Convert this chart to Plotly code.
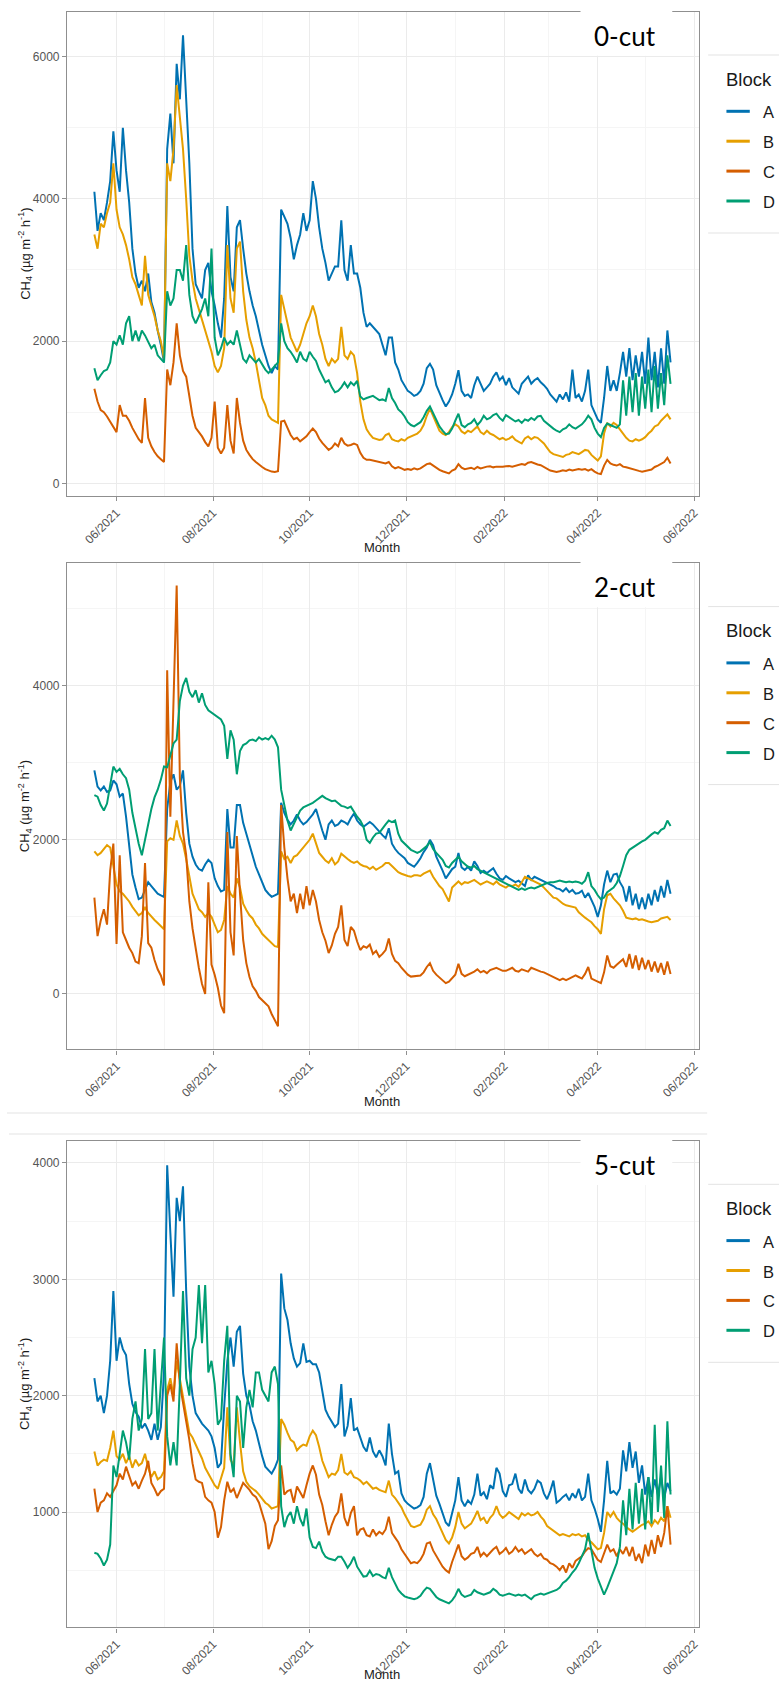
import pandas as pd
import plotly.graph_objects as go

W, H = 781, 1683
START = "2021-05-18"
STEP = "2D"
N_POINTS = 183

# ---- CH4 flux series, one value every two days (µg m-2 h-1) ----
cut0_A = [
    4100, 3550, 3800, 3700, 3950, 4250, 4950, 4400, 4100, 5000,
    4400, 3950, 3300, 2950, 2750, 2850, 2700, 2950, 2550, 2400,
    2150, 1950, 1700, 4700, 5200, 4500, 5900, 5400, 6300, 5400,
    4500, 3300, 2800, 2700, 2600, 3000, 3100, 2700, 2500, 2250,
    2050, 2600, 3900, 2900, 2700, 3600, 3700, 3300, 2950, 2700,
    2500, 2350, 2150, 1950, 1800, 1650, 1550, 1650, 1600, 3850,
    3750, 3650, 3450, 3150, 3350, 3500, 3800, 3550, 3700, 4250,
    4000, 3600, 3300, 3100, 2850, 2950, 3050, 3050, 3700, 3000,
    2850, 3350, 2950, 2950, 2750, 2400, 2200, 2250, 2200, 2150,
    2100, 1950, 1800, 2050, 2050, 1700, 1600, 1450, 1380, 1300,
    1270, 1230, 1250, 1300, 1400, 1620, 1680, 1600, 1380, 1270,
    1170, 1080, 1150, 1250, 1400, 1590, 1300, 1230, 1250, 1200,
    1380, 1500, 1400, 1300, 1350, 1400, 1500, 1560, 1450, 1500,
    1380, 1480, 1350, 1300, 1260, 1400, 1450, 1500, 1400, 1450,
    1480, 1420, 1380, 1330, 1250, 1200, 1150, 1250, 1180, 1280,
    1150, 1600, 1200, 1250, 1150, 1300, 1600, 1100, 1000, 900,
    850, 1200, 1650, 1300, 1450, 1300, 1550, 1850, 1500, 1900,
    1450, 1800, 1500, 1850, 1400, 2050, 1450, 1850, 1350, 1900,
    1400, 2150, 1700,
]
cut0_B = [
    3500, 3300, 3650, 3600, 3800, 3950, 4500, 3850, 3600, 3500,
    3350, 3150, 2900, 2800, 2650, 2500, 3200, 2650, 2500, 2350,
    2150, 2000, 1750, 4500, 4250, 4700, 5600, 5100, 4700, 4000,
    3200, 2850, 2600, 2450, 2300, 2150, 2000, 1850, 1650, 1560,
    1650, 1900, 3350, 2600, 2400, 3300, 3400, 2700, 2300, 2050,
    1900, 1700, 1450, 1200, 1100, 950, 900, 870, 850, 2650,
    2450, 2250, 2050, 1950, 1850, 1950, 2100, 2250, 2350, 2500,
    2350, 2100, 1950, 1750, 1650, 1750, 1700, 1750, 2200, 1800,
    1750, 1850, 1800, 1550, 1150, 900, 760, 690, 640, 620,
    610, 620, 680, 700, 620, 600, 590, 620, 600, 640,
    660, 680, 700, 740, 820, 950, 1050, 950, 850, 740,
    700, 680, 720, 790, 830, 800, 730, 700, 740, 720,
    760, 800, 720, 690, 740, 700, 680, 650, 620, 640,
    610, 630, 660, 610, 590, 560, 630, 660, 620, 650,
    640, 600, 560, 500, 440, 410, 400, 390, 370, 400,
    410, 440, 420, 410, 440, 470, 460, 400, 360, 320,
    380, 700, 850, 800, 850, 820, 760, 700, 640, 600,
    590, 620, 600, 620, 650, 700, 740, 800, 820, 880,
    930, 970, 900,
]
cut0_C = [
    1330, 1150, 1030, 1000, 940, 860, 780, 720, 1100, 950,
    950, 880, 780, 690, 620, 570, 1200, 640, 520, 440,
    380, 340, 300, 1600, 1380, 1700, 2250, 1800, 1580, 1500,
    1250, 950, 780, 720, 660, 580, 520, 640, 1150, 500,
    420, 500, 1100, 600, 420, 1200, 850, 600, 470, 400,
    340, 300, 260, 230, 200, 180, 165, 160, 170, 870,
    880, 780, 680, 620, 640, 590, 620, 660, 720, 770,
    720, 630, 570, 520, 470, 500, 560, 520, 640, 560,
    530, 540, 560, 540, 430, 360, 330, 330, 320, 300,
    290, 280, 280, 300, 240, 210, 230, 210, 190, 200,
    190, 210, 195, 210, 240, 270, 280, 250, 210, 190,
    170, 160, 140, 180, 200, 270, 220, 200, 210, 220,
    200, 230, 210, 225, 235, 240, 225, 235, 230, 235,
    240, 245, 235, 250, 260, 270, 260, 290, 300, 280,
    265, 255, 230, 200, 180, 170, 160, 170, 185, 175,
    195, 180, 190, 200, 190, 200, 180, 200, 165, 140,
    130, 250, 330, 280, 260, 250, 270, 235, 225, 210,
    200, 185, 175, 165, 170, 185, 195, 230, 250, 280,
    300, 360, 280,
]
cut0_D = [
    1620, 1450, 1520, 1580, 1600, 1700, 2000, 1950, 2080, 1950,
    2250, 2350, 2000, 2150, 2000, 2150, 2080, 1980, 1900, 1950,
    1800, 1750, 1700, 2700, 2500, 2600, 3000, 3000, 2850, 3350,
    2650, 2350, 2250, 2350, 2450, 2600, 2350, 3300, 2050, 1800,
    1900, 2050, 1950, 2000, 1950, 2150, 1950, 1750, 1700, 1800,
    1750, 1700, 1750, 1680, 1600, 1550, 1600, 1650, 1700, 2250,
    2000, 1900, 1850, 1780, 1700, 1850, 1750, 1720, 1850, 1780,
    1720, 1600, 1500, 1420, 1450, 1350, 1280, 1300, 1350, 1420,
    1350, 1420, 1380, 1440, 1220, 1180, 1200, 1210, 1230, 1200,
    1170, 1180, 1160, 1340, 1200, 1130, 1040, 1000, 940, 860,
    820, 800, 830, 860, 930, 1020, 1080, 980, 890, 800,
    740, 690, 700, 770, 880, 980, 820, 790, 830, 850,
    900, 820, 870, 950, 900, 920, 960, 980, 920, 880,
    960, 930, 900, 870, 890, 850, 900, 880, 920, 890,
    940, 950, 880, 840, 800, 770, 740, 720, 760, 780,
    830, 790, 770, 800, 830, 880, 950, 900, 780, 700,
    650, 780, 840, 820, 800, 780, 830, 1450, 950, 1500,
    1000, 1550, 950, 1500, 1050, 1600, 1000, 1650, 1050, 1550,
    1100, 1800, 1400,
]

cut2_A = [
    2900, 2690, 2640, 2690, 2620, 2640, 2770, 2720, 2560, 2600,
    2300, 1950, 1550, 1380, 1230, 1250, 1350, 1450, 1400, 1350,
    1300, 1280, 1260, 2400, 2750, 2850, 2650, 2700, 2900, 2350,
    1950, 1780, 1680, 1620, 1600, 1680, 1740, 1700, 1500, 1400,
    1330, 1350, 2400, 1900, 1900, 2450, 2450, 2220, 2080, 1950,
    1800, 1650, 1550, 1450, 1350, 1300, 1260, 1280, 1300, 2480,
    2350, 2260, 2200, 2250, 2330, 2250, 2200, 2230, 2280, 2330,
    2400, 2250, 2120, 2000, 2200, 2250, 2180, 2200, 2250, 2230,
    2200, 2280, 2340, 2250, 2200, 2170, 2200, 2230, 2200, 2150,
    2100, 2060, 2020, 2150, 1950, 1880, 1830, 1800, 1760, 1700,
    1670, 1650, 1700, 1760, 1840, 1900, 2000, 1930, 1780, 1700,
    1600, 1500, 1560, 1620, 1650, 1830, 1640, 1610, 1650, 1600,
    1720, 1660, 1570, 1600, 1570, 1600, 1630, 1560, 1500, 1480,
    1530, 1500, 1480, 1450, 1470, 1430, 1400, 1540, 1480, 1520,
    1500, 1480, 1470, 1440, 1420, 1400, 1370, 1360, 1330, 1370,
    1320, 1350, 1300, 1310, 1340, 1250, 1310, 1220, 1130, 1000,
    1150, 1420, 1600, 1450, 1550, 1560, 1450, 1380, 1200, 1400,
    1150, 1300, 1100, 1250, 1100, 1300, 1150, 1350, 1200, 1400,
    1250, 1480, 1300,
]
cut2_B = [
    1850, 1800, 1830, 1880, 1930, 1900, 1650, 1420, 1330, 1300,
    1250, 1200, 1130, 1080, 1020, 1050, 1120, 1050, 1000, 960,
    920, 880, 840, 1980, 2020, 2000, 2250, 2050, 1950, 1750,
    1500, 1300, 1200, 1100, 1060, 1000, 1050, 1000, 900, 800,
    830, 960, 1400, 1300, 1250, 1500, 1380, 1170, 1090, 1020,
    980, 900, 850, 780, 740, 700, 660, 620, 610, 1850,
    1750, 1780, 1700, 1780, 1800, 1850, 1900, 1950, 2000, 2080,
    1950, 1830, 1780, 1730, 1700, 1760, 1680, 1720, 1820, 1780,
    1750, 1720, 1700, 1720, 1680, 1660, 1650, 1620, 1650, 1610,
    1630, 1660, 1700, 1700, 1660, 1620, 1580, 1560, 1540, 1530,
    1520, 1540, 1540, 1530, 1560, 1580, 1600, 1520, 1460, 1400,
    1360, 1280, 1200, 1380, 1420, 1460, 1420, 1450, 1440, 1460,
    1480, 1450, 1420, 1440, 1460, 1440, 1420, 1460, 1420, 1400,
    1380, 1410, 1400, 1420, 1390, 1450, 1520, 1500, 1480, 1460,
    1430, 1420, 1380, 1340, 1300, 1250, 1240, 1200, 1170, 1150,
    1140, 1130, 1120, 1060, 1020, 990, 960, 930, 880, 840,
    780, 1100, 1280, 1300, 1240, 1200, 1150, 1080, 990, 980,
    970, 980, 960, 970, 950, 940, 930, 940, 950, 980,
    990, 1000, 960,
]
cut2_C = [
    1250, 750, 950, 1100, 900, 1600, 1950, 650, 1800, 800,
    700, 600, 530, 420, 400, 750, 1700, 660, 600, 440,
    320, 240, 110, 4200, 2300, 3850, 5300, 2800, 2100, 1800,
    1200, 850, 570, 340, 130, 0, 1450, 380, 250, 80,
    -150, -250, 2100, 800, 500, 2050, 1300, 700, 400, 220,
    100, 40, -40, -80, -120, -160, -260, -350, -420, 2450,
    1900, 1500, 1200, 1300, 1050, 1300, 1100, 1400, 1150, 1350,
    1200, 960, 800, 690, 530, 630, 780, 870, 1150, 700,
    620, 870, 820, 680, 570, 620, 600, 640, 520, 560,
    480, 520, 570, 720, 520, 430, 400, 340, 300, 250,
    225, 230, 235, 240, 280, 350, 400, 300, 250, 210,
    180, 140, 160, 200, 250, 390, 260, 230, 250, 260,
    290, 320, 280, 300, 270, 310, 320, 340, 320, 300,
    300, 320, 340, 300, 290, 320, 310, 290, 340, 320,
    300, 290, 280, 260, 240, 220, 200, 180, 200, 180,
    200, 220, 240, 220, 200, 260, 350, 200, 180, 160,
    140, 280, 500, 360, 340, 380, 420, 450, 350, 520,
    330, 500, 310, 470, 320, 440, 290, 420, 280, 400,
    250, 420, 260,
]
cut2_D = [
    2580, 2560, 2450, 2380, 2470, 2720, 2950, 2880, 2920, 2850,
    2800, 2650, 2350, 2150, 1950, 1800, 2000, 2220, 2400, 2550,
    2650, 2780, 2950, 2940, 3100, 3250, 3300, 3800, 4000, 4100,
    3920, 3850, 3940, 3780, 3900, 3750, 3680, 3650, 3620, 3600,
    3560, 3480, 3050, 3420, 3300, 2850, 3150, 3230, 3250, 3290,
    3300, 3280, 3330, 3300, 3320, 3300, 3350, 3300, 3200, 2650,
    2450, 2250, 2120, 2200, 2300, 2380, 2420, 2440, 2450, 2480,
    2510, 2540, 2570, 2540, 2520, 2500, 2510, 2470, 2440, 2430,
    2410, 2430, 2360, 2300, 2250, 2170, 2000, 1960, 2030, 2080,
    2090, 2150, 2200, 2250, 2230, 2250, 2080, 1990, 1950, 1910,
    1870, 1850, 1830, 1850, 1880, 1920, 1970, 1880, 1830, 1780,
    1740, 1660, 1640, 1700, 1740, 1780, 1720, 1690, 1650, 1640,
    1660, 1620, 1600, 1580, 1560, 1540, 1520, 1500, 1480, 1450,
    1430, 1410, 1390, 1370, 1350, 1370, 1350, 1370, 1380, 1370,
    1390, 1400, 1420, 1440, 1450, 1450, 1460, 1470, 1460, 1450,
    1460, 1450, 1460, 1450, 1430, 1470, 1580, 1400, 1350, 1280,
    1230, 1250, 1320, 1350, 1380, 1440, 1530, 1660, 1800, 1870,
    1900, 1920, 1950, 1980, 2000, 2040, 2070, 2100, 2080, 2130,
    2150, 2250, 2180,
]

cut5_A = [
    2150, 1950, 2000, 1850, 2000, 2300, 2900, 2300, 2500, 2400,
    2350, 2100, 1930, 1860, 1820, 1720, 1760, 1700, 1620, 1760,
    1620, 1730, 2200, 3980, 3400, 2850, 3700, 3500, 3800, 2900,
    2250, 2000, 1850, 1800, 1760, 1730, 1700, 1650, 1550, 1380,
    1420, 1900, 2300, 2500, 2250, 2550, 2600, 2190, 2000, 1920,
    1780, 1700, 1580, 1480, 1390, 1360, 1330, 1380, 1450, 3050,
    2750, 2650, 2450, 2320, 2250, 2280, 2450, 2290, 2300, 2270,
    2270, 2200, 2050, 1880, 1820, 1780, 1730, 1760, 2100, 1650,
    1740, 1980, 1700, 1720, 1640, 1560, 1520, 1640, 1520, 1470,
    1530, 1480, 1400, 1760, 1500, 1330, 1350, 1160, 1100, 1070,
    1050, 1030, 1040, 1060, 1130, 1330, 1420, 1280, 1140, 1070,
    990, 910, 880, 990, 1100, 1300, 1100, 1050, 1100, 1070,
    1150, 1330, 1140, 1170, 1110, 1230, 1200, 1380, 1330, 1180,
    1130, 1230, 1240, 1330, 1200, 1160, 1280, 1190, 1160, 1200,
    1270, 1250, 1160, 1110, 1180, 1270, 1080, 1100, 1130, 1150,
    1100, 1160, 1120, 1200, 1100, 1130, 1330, 1100, 1030, 940,
    830, 1100, 1440, 1160, 1180, 1150, 1200, 1530, 1350, 1600,
    1380, 1520, 1250, 1400, 1150, 1300, 1130, 1280, 1150, 1300,
    1120, 1250, 1180,
]
cut5_B = [
    1520, 1400, 1430, 1450, 1440, 1550, 1700, 1480, 1450, 1500,
    1420, 1480, 1380, 1450, 1400, 1420, 1500, 1380, 1300, 1350,
    1280, 1300, 1350, 2050, 2150, 2000, 2300, 2150, 2000, 1820,
    1680, 1640, 1580, 1530, 1460, 1380, 1330, 1270, 1230, 1200,
    1300, 1380, 1900, 1450, 1400, 1900, 1600, 1350, 1260, 1220,
    1200, 1180, 1150, 1110, 1080, 1060, 1030, 1040, 1050, 1800,
    1750, 1680, 1620, 1600, 1530, 1560, 1580, 1570, 1650, 1700,
    1660, 1560, 1440, 1370, 1300, 1330, 1320, 1360, 1500, 1340,
    1320, 1350, 1300, 1290, 1270, 1240, 1260, 1230, 1200, 1210,
    1190, 1180, 1170, 1270, 1150, 1120, 1080, 1040, 980, 930,
    880, 870, 880, 890, 940, 1020, 1050, 980, 940, 880,
    820, 760, 730, 780, 870, 1000, 900, 860, 880, 900,
    950, 1010, 930, 950, 900, 950, 980, 1050, 980, 950,
    970, 1000, 980, 960, 940, 990, 970, 990, 970, 980,
    1000, 960, 930, 880, 860, 840, 820, 800, 810, 800,
    790, 810, 800, 810, 790, 800, 760, 740, 710, 680,
    690, 820, 1000, 960, 1000, 950, 920, 900, 870, 850,
    830, 850, 870, 890, 900, 920, 880, 930, 900, 950,
    920, 1050, 950,
]
cut5_C = [
    1200, 1000, 1080, 1100, 1160, 1130, 1180, 1230, 1330, 1280,
    1390, 1300, 1230, 1260, 1200, 1270, 1330, 1440, 1250, 1200,
    1140, 1180, 1200, 2000, 2100, 1950, 2450, 2100, 1950, 1800,
    1620, 1420, 1280, 1260, 1250, 1130, 1100, 1080, 1000, 780,
    870, 1100, 1260, 1170, 1200, 1120, 1190, 1250, 1220, 1190,
    1150, 1130, 1080, 990, 900, 680, 750, 880, 930, 1400,
    1150, 1180, 1190, 1080, 1220, 1170, 1120, 1230, 1330, 1400,
    1320, 1150, 1060, 920, 800, 890, 960, 1000, 1160, 950,
    880, 990, 1050, 800, 850, 860, 800, 790, 850, 800,
    830, 810, 850, 960, 820, 780, 740, 680, 640, 590,
    560, 570, 560, 590, 640, 730, 740, 670, 620, 570,
    530, 500, 480, 570, 640, 720, 620, 590, 610, 640,
    650, 700, 620, 650, 620, 650, 680, 700, 640, 660,
    690, 640, 660, 700, 660, 680, 640, 660, 680, 640,
    620, 640, 600, 590, 560, 550, 530, 500, 540, 480,
    560, 520, 580, 600, 620, 660, 690, 680, 640, 590,
    570, 650, 720, 660, 680, 620, 680, 640, 700, 620,
    700, 580, 640, 560, 720, 620, 760, 640, 800, 700,
    820, 1050, 720,
]
cut5_D = [
    650, 640, 600, 540, 590, 720, 1400, 1300, 1500, 1700,
    1600, 1450, 1800, 1950, 1700, 1800, 2400, 1800, 1850, 2400,
    1700, 2150, 2500, 1650, 1400, 1600, 1400, 2100, 2900, 2150,
    2000, 2400, 2500, 2950, 2450, 2950, 2200, 2300, 2100, 1750,
    1800, 2300, 2600, 1500, 1300, 2000, 1950, 1550, 1900, 2050,
    1900, 2200, 2200, 2050, 2000, 1950, 2200, 2250, 2100, 1050,
    870, 960, 1000, 900, 1050, 940, 880, 1030, 780, 700,
    690, 745, 660, 616, 600, 590, 585, 616, 616, 573,
    520, 560, 616, 530, 490, 445, 450, 496, 450, 467,
    460, 440, 430, 520, 440, 390, 330, 300, 275, 265,
    260, 250, 260, 280, 320, 350, 340, 300, 270, 250,
    240, 225, 215, 240, 280, 340, 290, 270, 280, 290,
    330, 310, 300, 290, 300, 310, 340, 320, 290, 280,
    290, 300, 290, 280, 290, 280, 290, 270, 250, 280,
    290, 300, 290, 300, 310, 320, 330, 350, 390, 410,
    440, 480, 510, 560, 620, 680, 820, 650, 520, 430,
    360, 290, 350, 420, 490, 560, 700, 1100, 800, 1200,
    850, 1250, 900, 1200, 850, 1300, 900, 1750, 1000, 1400,
    950, 1780, 1150,
]

BLOCKS = ["A", "B", "C", "D"]
COLORS = {"A": "#0072B2", "B": "#E69F00", "C": "#D55E00", "D": "#009E73"}

PANELS = [
    dict(label="0-cut", series=dict(A=cut0_A, B=cut0_B, C=cut0_C, D=cut0_D),
         top=11.7, bottom=496.0, yrange=[-178, 6632], dtick=2000,
         month_y=547.0),
    dict(label="2-cut", series=dict(A=cut2_A, B=cut2_B, C=cut2_C, D=cut2_D),
         top=563.3, bottom=1049.3, yrange=[-718, 5587], dtick=2000,
         month_y=1101.0),
    dict(label="5-cut", series=dict(A=cut5_A, B=cut5_B, C=cut5_C, D=cut5_D),
         top=1141.0, bottom=1627.3, yrange=[9, 4189], dtick=1000,
         month_y=1674.0),
]

for p in PANELS:
    for k, v in p["series"].items():
        assert len(v) == N_POINTS, (p["label"], k, len(v))

dates = pd.date_range(START, periods=N_POINTS, freq=STEP)

# ---- page geometry (pixels) ----
X_LEFT, X_RIGHT = 67.3, 700.7
X_RANGE = ["2021-04-30 19:00", "2022-06-03 22:00"]
FONT = "Liberation Sans, Arial, sans-serif"
FRAME = "#8f8f8f"
GRID = "#ebebeb"
MINOR = "#f5f5f5"
TICK = "#555555"
TEXT = "#1a1a1a"
EDGE = "#e3e3e3"


def fx(px):
    return px / W


def fy(py):
    return 1 - py / H


def edge(x0, y0, x1, y1):
    return dict(type="line", xref="paper", yref="paper",
                x0=fx(x0), y0=fy(y0), x1=fx(x1), y1=fy(y1),
                line=dict(color=EDGE, width=1))


fig = go.Figure()
shapes = []
annotations = []

for i, p in enumerate(PANELS, start=1):
    sfx = "" if i == 1 else str(i)
    for b in BLOCKS:
        fig.add_trace(go.Scatter(
            x=dates, y=p["series"][b], mode="lines", name=b,
            line=dict(color=COLORS[b], width=2.0),
            xaxis="x" + sfx, yaxis="y" + sfx, showlegend=False,
        ))

    common = dict(
        showline=True, mirror=True, linecolor=FRAME, linewidth=1.4,
        ticks="outside", ticklen=4, tickwidth=1, tickcolor=FRAME,
        tickfont=dict(family=FONT, size=12, color=TICK),
        showgrid=True, gridcolor=GRID, gridwidth=1, zeroline=False,
    )
    fig.layout["xaxis" + sfx] = dict(
        common, type="date", range=X_RANGE, domain=[fx(X_LEFT), fx(X_RIGHT)],
        anchor="y" + sfx, tick0="2021-06-01", dtick="M2", tickformat="%m/%Y",
        tickangle=-45,
        minor=dict(tick0="2021-05-01", dtick="M1", showgrid=True,
                   gridcolor=MINOR, gridwidth=1),
    )
    fig.layout["yaxis" + sfx] = dict(
        common, range=p["yrange"], domain=[fy(p["bottom"]), fy(p["top"])],
        anchor="x" + sfx, tick0=0, dtick=p["dtick"],
        minor=dict(tick0=0, dtick=p["dtick"] / 2, showgrid=True,
                   gridcolor=MINOR, gridwidth=1),
    )

    mid = (p["top"] + p["bottom"]) / 2
    off = p["top"] - PANELS[0]["top"]

    # axis titles
    annotations.append(dict(
        x=fx(25), y=fy(mid), xref="paper", yref="paper",
        text="CH<sub>4</sub> (µg m<sup>-2</sup> h<sup>-1</sup>)",
        textangle=-90, showarrow=False, xanchor="center", yanchor="middle",
        font=dict(family=FONT, size=13, color=TEXT),
    ))
    annotations.append(dict(
        x=fx(383), y=fy(p["month_y"]), xref="paper", yref="paper",
        text="Month", showarrow=False, xanchor="center", yanchor="middle",
        font=dict(family=FONT, size=13, color=TEXT),
    ))

    # treatment label on a white box in the upper-right corner
    shapes.append(dict(
        type="rect", xref="paper", yref="paper", layer="above",
        x0=fx(582), x1=fx(674), y0=fy(p["top"] - 2), y1=fy(p["top"] + 44),
        fillcolor="white", line=dict(width=0),
    ))
    annotations.append(dict(
        x=fx(627), y=fy(p["top"] + 24), xref="paper", yref="paper",
        text=p["label"], showarrow=False, xanchor="center", yanchor="middle",
        font=dict(family="Lato, Carlito, sans-serif", size=26, color="black"),
    ))

    # legend, in its own light box
    box_top, box_bot = 55 + off, 233 + off
    shapes.append(edge(710, box_top, W, box_top))
    shapes.append(edge(710, box_bot, W, box_bot))
    annotations.append(dict(
        x=fx(726), y=fy(79.3 + off), xref="paper", yref="paper",
        text="Block", showarrow=False, xanchor="left", yanchor="middle",
        font=dict(family=FONT, size=18.5, color=TEXT),
    ))
    for j, b in enumerate(BLOCKS):
        ky = 111.3 + off + j * 29.9
        shapes.append(dict(
            type="line", xref="paper", yref="paper",
            x0=fx(728.3), x1=fx(751.7), y0=fy(ky), y1=fy(ky),
            line=dict(color=COLORS[b], width=3),
        ))
        annotations.append(dict(
            x=fx(763), y=fy(ky + 1), xref="paper", yref="paper",
            text=b, showarrow=False, xanchor="left", yanchor="middle",
            font=dict(family=FONT, size=16.5, color=TEXT),
        ))

# light edges between the stacked panels
shapes.append(edge(7, 1113, 709, 1113))
shapes.append(edge(9, 1134, 709, 1134))

fig.update_layout(
    width=W, height=H, margin=dict(l=0, r=0, t=0, b=0),
    paper_bgcolor="white", plot_bgcolor="white",
    shapes=shapes, annotations=annotations, showlegend=False,
)

fig.write_html("out.html")
